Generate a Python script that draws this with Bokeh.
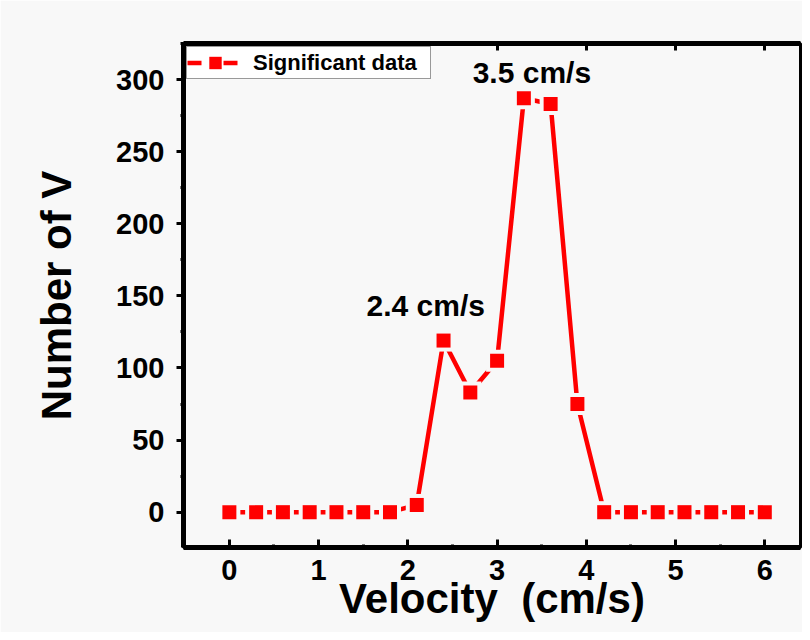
from bokeh.plotting import figure
from bokeh.models import (Range1d, LinearAxis, SingleIntervalTicker, CustomJSTickFormatter,
                          Legend, LegendItem)
from bokeh.core.properties import value
from bokeh.embed import file_html
from bokeh.resources import INLINE

# ---- data ----
velocity = [0.0, 0.3, 0.6, 0.9, 1.2, 1.5, 1.8, 2.1, 2.4, 2.7, 3.0,
            3.3, 3.6, 3.9, 4.2, 4.5, 4.8, 5.1, 5.4, 5.7, 6.0]
counts = [0, 0, 0, 0, 0, 0, 0, 5, 119, 83, 105,
          287, 283, 75, 0, 0, 0, 0, 0, 0, 0]
series_name = "Significant data"
peak_label_x = [2.2, 3.39]
peak_label_y = [143, 305]
peak_labels = ["2.4 cm/s", "3.5 cm/s"]
x_label = "Velocity \u00a0(cm/s)"
y_label = "Number of V"
x_limits = (-0.514, 6.40)
y_limits = (-24.5, 325)

FONT = "Liberation Sans"
RED = "#ff0000"
BG = "#f8f8f8"

p = figure(width=802, height=632, output_backend="svg", toolbar_location=None,
           x_range=Range1d(*x_limits), y_range=Range1d(*y_limits),
           min_border_left=183, min_border_right=2, min_border_top=43, min_border_bottom=85)
p.background_fill_color = BG
p.border_fill_color = BG
p.grid.visible = False
p.outline_line_color = "black"
p.outline_line_width = 3
p.outline_line_alpha = 1

# main series: solid line, gaps around symbols, square symbols
p.line(velocity, counts, line_color=RED, line_width=4.5)
p.scatter(velocity, counts, marker="square", size=22, fill_color=BG, line_color=None)
markers = p.scatter(velocity, counts, marker="square", size=14, fill_color=RED, line_color=None)

# legend-only line style (dash - symbol - dash look); a single point draws nothing on the plot
leg_line = p.line(x=velocity[:1], y=counts[:1], line_color=RED, line_width=4.5,
                  line_dash="14 22 14")

# peak annotations
p.text(x=peak_label_x, y=peak_label_y, text=peak_labels,
       text_font=value(FONT), text_font_size="30px", text_font_style="bold",
       text_color="black", text_align="center", text_baseline="alphabetic")

# axes
xa = p.xaxis[0]
xa.ticker = SingleIntervalTicker(interval=1, num_minor_ticks=2)
xa.axis_label = x_label
ya = p.yaxis[0]
ya.ticker = SingleIntervalTicker(interval=50, num_minor_ticks=2)
ya.axis_label = y_label

for ax in (xa, ya):
    ax.axis_line_width = 5
    ax.axis_line_color = "black"
    ax.major_tick_line_width = 3
    ax.minor_tick_line_width = 3
    ax.major_tick_line_color = "black"
    ax.minor_tick_line_color = "black"
    ax.major_label_text_font = FONT
    ax.major_label_text_font_size = "29px"
    ax.major_label_text_font_style = "bold"
    ax.major_label_text_color = "black"
    ax.axis_label_text_font = FONT
    ax.axis_label_text_font_size = "42px"
    ax.axis_label_text_font_style = "bold"
    ax.axis_label_text_color = "black"

xa.major_tick_in = 8
xa.major_tick_out = 0
xa.minor_tick_in = 3
xa.minor_tick_out = 0
xa.major_label_standoff = 12
xa.axis_label_standoff = -8

ya.major_tick_in = 0
ya.major_tick_out = 7
ya.minor_tick_in = 0
ya.minor_tick_out = 3
ya.major_label_standoff = 12
ya.axis_label_standoff = 33

top = LinearAxis(ticker=SingleIntervalTicker(interval=1, num_minor_ticks=2),
                 formatter=CustomJSTickFormatter(code="return ''"))
top.axis_line_width = 5
top.axis_line_color = "black"
top.major_tick_in = 7
top.major_tick_out = 0
top.minor_tick_in = 2
top.minor_tick_out = 0
top.major_tick_line_width = 3
top.minor_tick_line_width = 3
top.major_label_standoff = 0
top.major_label_text_font_size = "1px"
p.add_layout(top, "above")

legend = Legend(items=[LegendItem(label=series_name, renderers=[leg_line, markers])],
                location="top_left", margin=3, padding=0, spacing=0,
                glyph_width=56, glyph_height=31, label_standoff=10, label_width=177,
                border_line_color="#333333", border_line_width=1,
                background_fill_color="white", background_fill_alpha=1,
                label_text_font=FONT, label_text_font_size="22px",
                label_text_font_style="bold", label_text_color="black")
p.add_layout(legend)

open("out.html", "w").write(file_html(p, INLINE))
